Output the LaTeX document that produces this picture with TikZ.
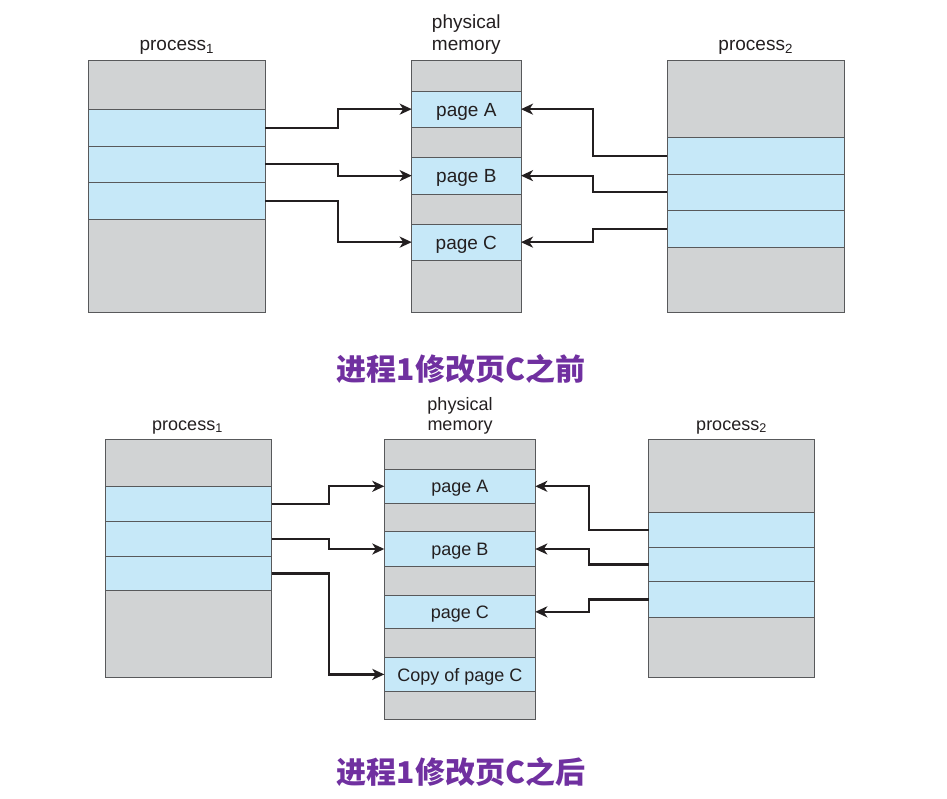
\documentclass[tikz,border=0pt]{standalone}
\usepackage{fontspec}
\setmainfont{Liberation Sans}
\newfontfamily\cjk{Noto Sans CJK SC}
\usetikzlibrary{arrows.meta}
\definecolor{bandgray}{HTML}{D1D3D4}
\definecolor{bandblue}{HTML}{C6E8F8}
\definecolor{edgecol}{HTML}{58595B}
\definecolor{capcol}{HTML}{7030A0}
\definecolor{txtcol}{HTML}{231F20}
% #1 name, #2 x1, #3 y1, #4 x2, #5 y2, #6 fill, #7 text
\newcommand\membandbox[7]{%
  \node[bandbox, fill=#6, minimum width={(#4-#2)*1pt}, minimum height={(#5-#3)*1pt}] (#1) at (#2,#3) {#7};}
\tikzset{
  bandbox/.style={draw=edgecol, line width=0.9pt, anchor=north west, inner sep=0pt, outer sep=0pt, text=txtcol, text depth=0pt},
  link/.style={draw=txtcol, line width=2.2pt, -{Stealth[length=12pt,width=11pt,inset=3.5pt]}},
  lbl/.style={text=txtcol, inner sep=0pt},
  captxt/.style={text=capcol, font=\cjk\bfseries\fontsize{30}{33}\selectfont, inner sep=0pt}
}
\begin{document}
\begin{tikzpicture}[x=1pt,y=-1pt]
\useasboundingbox (0,0) rectangle (947,799);
% ---------------- top ----------------
\begin{scope}[font=\fontsize{19}{22}\selectfont, bandbox/.append style={text height=14pt}]
\membandbox{ta0}{88.3}{60.3}{265.3}{109.3}{bandgray}{}
\membandbox{ta1}{88.3}{109.3}{265.3}{146}{bandblue}{}
\membandbox{ta2}{88.3}{146}{265.3}{182.7}{bandblue}{}
\membandbox{ta3}{88.3}{182.7}{265.3}{219.3}{bandblue}{}
\membandbox{ta4}{88.3}{219.3}{265.3}{312.3}{bandgray}{}
\membandbox{tm0}{411.7}{60.3}{521}{91}{bandgray}{}
\membandbox{tmA}{411.7}{91}{521}{127.3}{bandblue}{page A}
\membandbox{tm1}{411.7}{127.3}{521}{157.3}{bandgray}{}
\membandbox{tmB}{411.7}{157.3}{521}{194}{bandblue}{page B}
\membandbox{tm2}{411.7}{194}{521}{224}{bandgray}{}
\membandbox{tmC}{411.7}{224}{521}{260.3}{bandblue}{page C}
\membandbox{tm3}{411.7}{260.3}{521}{312.3}{bandgray}{}
\membandbox{tb0}{667.3}{60.3}{844}{137.3}{bandgray}{}
\membandbox{tb1}{667.3}{137.3}{844}{174}{bandblue}{}
\membandbox{tb2}{667.3}{174}{844}{210.7}{bandblue}{}
\membandbox{tb3}{667.3}{210.7}{844}{247.3}{bandblue}{}
\membandbox{tb4}{667.3}{247.3}{844}{312.3}{bandgray}{}
\node[lbl, anchor=base] (tp1) at (176.8,50.3) {process\textsubscript{1}};
\node[lbl, anchor=base] (tp2) at (755.7,50.3) {process\textsubscript{2}};
\node[lbl, anchor=south, align=center] (tpm) at (466.3,55) {physical\\memory};
\end{scope}
\draw[link] (ta1.east) -- ++(72.4,0) |- (tmA.west);
\draw[link] (ta2.east) -- ++(72.4,0) |- (tmB.west);
\draw[link] (ta3.east) -- ++(72.4,0) |- (tmC.west);
\draw[link] (tb1.west) -- ++(-74.3,0) |- (tmA.east);
\draw[link] (tb2.west) -- ++(-74.3,0) |- (tmB.east);
\draw[link] (tb3.west) -- ++(-74.3,0) |- (tmC.east);
\node[captxt] (cap1) at (461,368.5) {进程1修改页C之前};
% ---------------- bottom ----------------
\begin{scope}[font=\fontsize{18}{20}\selectfont, bandbox/.append style={text height=13.2pt}]
\membandbox{ba0}{105.3}{439.3}{271.7}{486.7}{bandgray}{}
\membandbox{ba1}{105.3}{486.7}{271.7}{521.7}{bandblue}{}
\membandbox{ba2}{105.3}{521.7}{271.7}{556.3}{bandblue}{}
\membandbox{ba3}{105.3}{556.3}{271.7}{590.7}{bandblue}{}
\membandbox{ba4}{105.3}{590.7}{271.7}{677}{bandgray}{}
\membandbox{bm0}{384.3}{439.3}{535.3}{469.3}{bandgray}{}
\membandbox{bmA}{384.3}{469.3}{535.3}{503.3}{bandblue}{page A}
\membandbox{bm1}{384.3}{503.3}{535.3}{531.7}{bandgray}{}
\membandbox{bmB}{384.3}{531.7}{535.3}{566.3}{bandblue}{page B}
\membandbox{bm2}{384.3}{566.3}{535.3}{595}{bandgray}{}
\membandbox{bmC}{384.3}{595}{535.3}{628.7}{bandblue}{page C}
\membandbox{bm3}{384.3}{628.7}{535.3}{657.5}{bandgray}{}
\membandbox{bmD}{384.3}{657.5}{535.3}{691.3}{bandblue}{Copy of page C}
\membandbox{bm4}{384.3}{691.3}{535.3}{719.3}{bandgray}{}
\membandbox{bb0}{648.7}{439.3}{814.7}{512.7}{bandgray}{}
\membandbox{bb1}{648.7}{512.7}{814.7}{547.3}{bandblue}{}
\membandbox{bb2}{648.7}{547.3}{814.7}{581.7}{bandblue}{}
\membandbox{bb3}{648.7}{581.7}{814.7}{617.3}{bandblue}{}
\membandbox{bb4}{648.7}{617.3}{814.7}{677}{bandgray}{}
\node[lbl, anchor=base] (bp1) at (187.5,430) {process\textsubscript{1}};
\node[lbl, anchor=base] (bp2) at (731.5,430) {process\textsubscript{2}};
\node[lbl, anchor=south, align=center] (bpm) at (460,434) {physical\\memory};
\end{scope}
\draw[link] (ba1.east) -- ++(57.3,0) |- (bmA.west);
\draw[link] (ba2.east) -- ++(57.3,0) |- (bmB.west);
\draw[link] (ba3.east) -- ++(57.3,0) |- (bmD.west);
\draw[link] (bb1.west) -- ++(-59.4,0) |- (bmA.east);
\draw[link] (bb2.west) -- ++(-59.4,0) |- (bmB.east);
\draw[link] (bb3.west) -- ++(-59.4,0) |- (bmC.east);
\node[captxt] (cap2) at (461,772) {进程1修改页C之后};
\end{tikzpicture}
\end{document}
